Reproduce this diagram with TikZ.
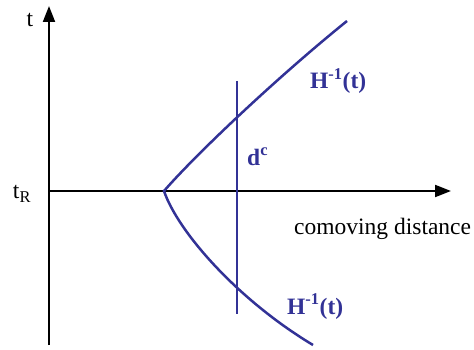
\documentclass[tikz,border=0pt]{standalone}
\usepackage{fontspec}
\setmainfont{Liberation Serif}
\usetikzlibrary{arrows.meta}
\definecolor{horizonblue}{RGB}{50,50,150}

\begin{document}
\begin{tikzpicture}[x=1pt,y=-1pt,>={Triangle[length=16pt,width=12pt]},
    font=\fontsize{23.5}{28}\selectfont,
    axis/.style={line width=2pt},
    horizon/.style={horizonblue,line width=2.5pt},
    bluelabel/.style={text=horizonblue,inner sep=0pt,anchor=base west,
      font=\fontsize{23.5}{28}\selectfont\bfseries}]
    \useasboundingbox (0,0) rectangle (474,350);
    \coordinate (origin) at (49,191);
    \coordinate (ttop) at (49,6);
    \coordinate (tbottom) at (49,345);
    \coordinate (dright) at (451,191);
    \draw[axis,->] (tbottom) -- (ttop);
    \draw[axis,->] (origin) -- (dright);
    \node (tlabel) at (30,20) {t};
    \node (trlabel) at (22,194) {t\textsubscript{R}};
    \node[inner sep=0pt,anchor=base west] (distlabel) at (294,234)
      {comoving distance};

    \coordinate (vertex) at (164,191);
    \coordinate (upperend) at (347,21);
    \coordinate (lowerend) at (313,345);
    \draw[horizon] (upperend) .. controls (280,75) and (198,152) .. (vertex)
      .. controls (178,232) and (238,300) .. (lowerend);
    \coordinate (dtop) at (237,81);
    \coordinate (dbottom) at (237,314);
    \draw[horizon] (dtop) -- (dbottom);

    \node[bluelabel] (upperH) at (310,89) {H\textsuperscript{-1}(t)};
    \node[bluelabel] (dclabel) at (247,165) {d\textsuperscript{c}};
    \node[bluelabel] (lowerH) at (287,314) {H\textsuperscript{-1}(t)};
\end{tikzpicture}
\end{document}
